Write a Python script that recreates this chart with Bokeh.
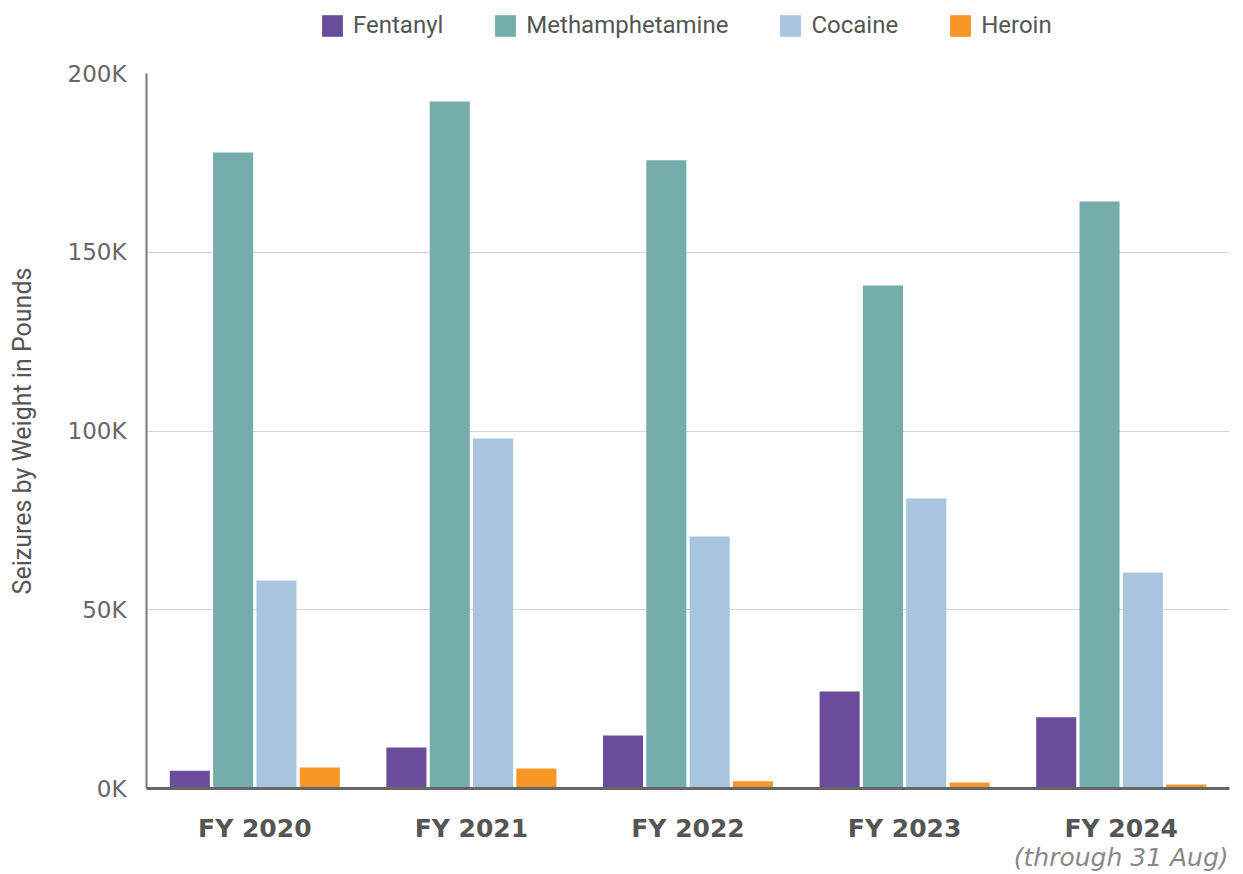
from bokeh.plotting import figure
from bokeh.layouts import column
from bokeh.models import (FactorRange, Range1d, Legend, LegendItem, FixedTicker, ColumnDataSource,
                          CategoricalAxis)
from bokeh.transform import dodge
from bokeh.embed import file_html
from bokeh.resources import INLINE

years = ["FY 2020", "FY 2021", "FY 2022", "FY 2023", "FY 2024"]
fentanyl = [5000, 11500, 14800, 27100, 19900]
methamphetamine = [177900, 192200, 175700, 140700, 164200]
cocaine = [58200, 97900, 70500, 81100, 60400]
heroin = [5900, 5600, 2000, 1700, 1100]
year_notes = ["", "", "", "", "(through 31 Aug)"]

series_names = ["Fentanyl", "Methamphetamine", "Cocaine", "Heroin"]
series_colors = ["#6B4C9A", "#73ACAB", "#A9C4DE", "#F89726"]
y_ticks = [0, 50000, 100000, 150000, 200000]
y_tick_labels = ["0K", "50K", "100K", "150K", "200K"]

source = ColumnDataSource(dict(years=years, Fentanyl=fentanyl, Methamphetamine=methamphetamine,
                               Cocaine=cocaine, Heroin=heroin))

# ---- legend strip (swatch renderers have a zero-height placeholder bar outside view) ----
lg = figure(width=1240, height=60, x_range=Range1d(0, 1), y_range=Range1d(1, 2),
            output_backend="svg", toolbar_location=None,
            min_border_left=0, min_border_right=0, min_border_top=0, min_border_bottom=0)
lg.axis.visible = False
lg.grid.visible = False
lg.outline_line_color = None
swatch = ColumnDataSource(dict(x=[0.5], top=[0]))
items = []
for name, color in zip(series_names, series_colors):
    r = lg.vbar(x="x", top="top", width=0.1, source=swatch, fill_color=color, line_color=None)
    items.append(LegendItem(label=name, renderers=[r]))
legend = Legend(items=items, orientation="horizontal", location=(173, 21),
                glyph_width=26, glyph_height=27, label_text_font="Roboto", label_text_font_size="24px",
                label_text_color="#555555", label_standoff=8, spacing=49, padding=0, margin=0,
                border_line_color=None, background_fill_alpha=0)
lg.add_layout(legend, "center")

# ---- main chart ----
note_factors = [n if n else " " * (i + 1) for i, n in enumerate(year_notes)]
p = figure(x_range=FactorRange(factors=years, range_padding=0), y_range=Range1d(0, 200000),
           width=1240, height=814, output_backend="svg", toolbar_location=None,
           min_border_left=146, min_border_top=13, min_border_right=11, min_border_bottom=86)
p.extra_x_ranges = {"notes": FactorRange(factors=note_factors, range_padding=0)}

offsets = [-0.3, -0.1, 0.1, 0.3]
for name, color, off in zip(series_names, series_colors, offsets):
    p.vbar(x=dodge("years", off, range=p.x_range), top=name, width=0.185, source=source,
           fill_color=color, line_color=None)

p.outline_line_color = None
p.xgrid.grid_line_color = None
p.ygrid.grid_line_color = "#d4d4d4"
p.ygrid.grid_line_width = 1
p.ygrid.ticker = FixedTicker(ticks=y_ticks)

p.yaxis.ticker = FixedTicker(ticks=y_ticks)
p.yaxis.major_label_overrides = dict(zip(y_ticks, y_tick_labels))
p.yaxis.major_label_text_font = "DejaVu Sans"
p.yaxis.major_label_text_font_size = "23px"
p.yaxis.major_label_text_color = "#666666"
p.yaxis.major_label_standoff = 14
p.yaxis.axis_line_color = "#777777"
p.yaxis.axis_line_width = 2
p.yaxis.major_tick_line_color = None
p.yaxis.minor_tick_line_color = None
p.yaxis.axis_label = "Seizures by Weight in Pounds"
p.yaxis.axis_label_text_font = "Roboto"
p.yaxis.axis_label_text_font_style = "normal"
p.yaxis.axis_label_text_font_size = "25px"
p.yaxis.axis_label_text_color = "#555555"
p.yaxis.axis_label_standoff = 28

p.xaxis.major_label_text_font = "DejaVu Sans"
p.xaxis.major_label_text_font_style = "bold"
p.xaxis.major_label_text_font_size = "25px"
p.xaxis.major_label_text_color = "#555555"
p.xaxis.major_label_standoff = 19
p.xaxis.axis_line_color = "#666666"
p.xaxis.axis_line_width = 3
p.xaxis.major_tick_line_color = None
p.xaxis.minor_tick_line_color = None

note_axis = CategoricalAxis(x_range_name="notes",
                            axis_line_color=None, major_tick_line_color=None,
                            minor_tick_line_color=None, major_label_standoff=-9,
                            major_label_text_font="DejaVu Sans", major_label_text_font_style="italic",
                            major_label_text_font_size="25px", major_label_text_color="#888888")
p.add_layout(note_axis, "below")

layout = column(lg, p, spacing=0)
open("out.html", "w").write(file_html(layout, INLINE))
